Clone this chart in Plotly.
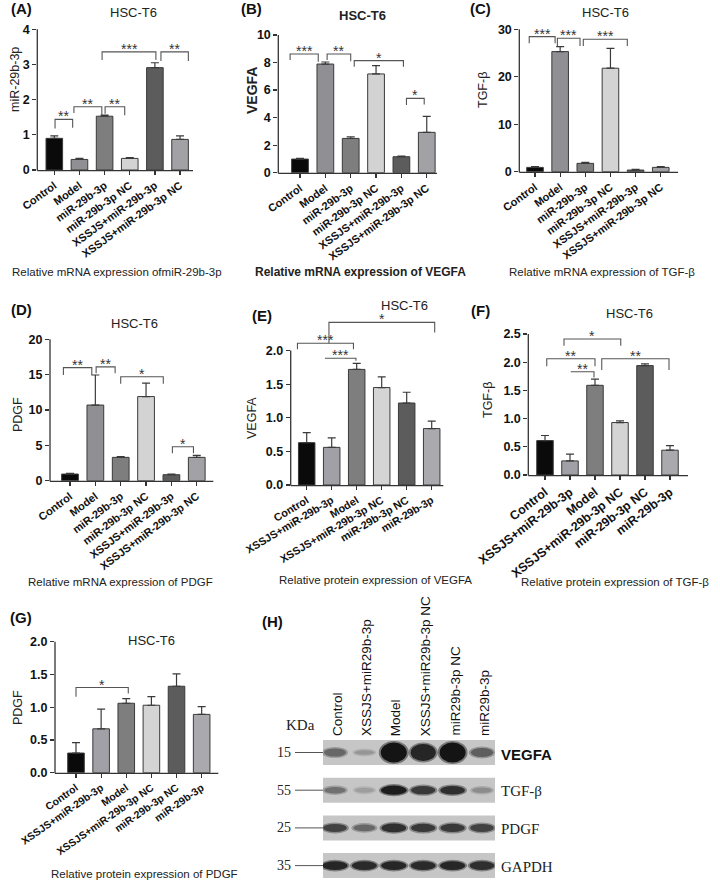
import plotly.graph_objects as go

W, H = 720, 882

# ---------------- data ----------------
mrna_groups = ["Control", "Model", "miR-29b-3p", "miR-29b-3p NC",
               "XSSJS+miR-29b-3p", "XSSJS+miR-29b-3p NC"]
prot_groups = ["Control", "XSSJS+miR-29b-3p", "Model",
               "XSSJS+miR-29b-3p NC", "miR-29b-3p NC", "miR-29b-3p"]

a_mir = [0.90, 0.30, 1.53, 0.33, 2.91, 0.87]
a_err = [0.07, 0.03, 0.03, 0.02, 0.14, 0.10]
b_vegfa = [0.99, 7.89, 2.49, 7.17, 1.16, 2.93]
b_err = [0.05, 0.15, 0.12, 0.60, 0.05, 1.16]
c_tgfb = [0.91, 25.3, 1.76, 21.8, 0.35, 0.91]
c_err = [0.14, 1.05, 0.21, 4.20, 0.14, 0.14]
d_pdgf = [0.94, 10.7, 3.30, 11.9, 0.85, 3.30]
d_err = [0.10, 4.25, 0.10, 1.90, 0.09, 0.28]
e_vegfa = [0.63, 0.56, 1.72, 1.45, 1.22, 0.84]
e_err = [0.15, 0.14, 0.09, 0.16, 0.16, 0.11]
f_tgfb = [0.61, 0.25, 1.59, 0.93, 1.94, 0.44]
f_err = [0.09, 0.12, 0.11, 0.03, 0.03, 0.08]
g_pdgf = [0.30, 0.67, 1.06, 1.03, 1.32, 0.89]
g_err = [0.16, 0.30, 0.07, 0.13, 0.19, 0.12]

# western blot (panel H)
blot_lanes = ["Control", "XSSJS+miR29b-3p", "Model", "XSSJS+miR29b-3p NC",
              "miR29b-3p NC", "miR29b-3p"]
blot_proteins = ["VEGFA", "TGF-β", "PDGF", "GAPDH"]
blot_kda = ["15", "55", "25", "35"]
vegfa_band = [0.55, 0.30, 1.00, 0.90, 1.00, 0.60]
tgfb_band = [0.50, 0.25, 0.95, 0.80, 0.85, 0.35]
pdgf_band = [0.75, 0.55, 0.85, 0.80, 0.80, 0.75]
gapdh_band = [0.90, 0.88, 0.90, 0.88, 0.90, 0.85]

mrna_colors = ["#0a0a0a", "#909094", "#7e7e7e", "#d3d3d3", "#5c5c5c", "#a2a2a6"]
prot_colors = ["#0a0a0a", "#a0a0a6", "#7e7e7e", "#d4d4d4", "#5c5c5c", "#aaaaae"]

FONT = "Liberation Sans, Arial, sans-serif"
SERIF = "Liberation Serif, Times New Roman, serif"
AX = "#333333"


def fx(px):
    return px / W


def fy(py):
    return 1 - py / H


# panel geometry (pixels)
panels = [
    dict(letter="(A)", cats=mrna_groups, vals=a_mir, errs=a_err, colors=mrna_colors,
         ax=37.3, end=193, cat0=54.3, sp=25.15, zero=170, pxu=35.17, ytop=4, ymax=4.1,
         xfs=11, xang=-36,
         ticks=[0, 1, 2, 3, 4], tickfmt="{:g}", ytitle="miR-29b-3p", ytbold=False,
         ytx=15, yty=80, title="HSC-T6", tbold=False, tx=133, ty=13,
         cap="Relative mRNA expression ofmiR-29b-3p", capbold=False, cx=117, cy=272,
         lx=21, ly=8,
         brackets=[(0.03, 0.73, 1.44, 1.18, 1.20, "**"),
                   (0.78, 1.89, 1.80, 1.62, 1.56, "**"),
                   (2.02, 2.80, 1.80, 1.60, 1.56, "**"),
                   (1.90, 4.04, 3.36, 3.13, 3.13, "***"),
                   (4.24, 5.33, 3.36, 3.10, 3.10, "**")]),
    dict(letter="(B)", cats=mrna_groups, vals=b_vegfa, errs=b_err, colors=mrna_colors,
         ax=278.3, end=437, cat0=300, sp=25.35, zero=172.7, pxu=13.77, ytop=10, ymax=10.2,
         xfs=11, xang=-36,
         ticks=[0, 2, 4, 6, 8, 10], tickfmt="{:g}", ytitle="VEGFA", ytbold=True,
         ytx=252, yty=90, title="HSC-T6", tbold=True, tx=362, ty=15,
         cap="Relative mRNA expression of VEGFA", capbold=True, cx=360, cy=272,
         lx=251, ly=8,
         brackets=[(-0.39, 0.72, 8.62, 8.18, 8.06, "***"),
                   (1.07, 2.00, 8.62, 8.18, 8.10, "**"),
                   (2.14, 4.08, 8.14, 7.70, 7.70, "*"),
                   (4.20, 4.90, 5.40, 4.92, 4.95, "*")]),
    dict(letter="(C)", cats=mrna_groups, vals=c_tgfb, errs=c_err, colors=mrna_colors,
         ax=519.3, end=678, cat0=535, sp=25.15, zero=171.7, pxu=4.747, ytop=30, ymax=32,
         xfs=11, xang=-36,
         ticks=[0, 10, 20, 30], tickfmt="{:g}", ytitle="TGF-β", ytbold=False,
         ytx=483, yty=90, title="HSC-T6", tbold=False, tx=605, ty=13,
         cap="Relative mRNA expression of TGF-β", capbold=False, cx=602, cy=272,
         lx=481, ly=8,
         brackets=[(-0.23, 0.80, 28.46, 27.06, 27.06, "***"),
                   (0.89, 1.79, 28.10, 26.50, 26.50, "***"),
                   (1.92, 3.67, 27.90, 26.50, 26.50, "***")]),
    dict(letter="(D)", cats=mrna_groups, vals=d_pdgf, errs=d_err, colors=mrna_colors,
         ax=50, end=213.3, cat0=70, sp=25.35, zero=480.7, pxu=7.07, ytop=20, ymax=20.5,
         xfs=11, xang=-37,
         ticks=[0, 5, 10, 15, 20], tickfmt="{:g}", ytitle="PDGF", ytbold=False,
         ytx=18, yty=415, title="HSC-T6", tbold=False, tx=134, ty=323,
         cap="Relative mRNA expression of PDGF", capbold=False, cx=120, cy=582,
         lx=21, ly=309,
         brackets=[(-0.26, 0.86, 16.0, 14.95, 14.95, "**"),
                   (1.03, 1.78, 16.1, 15.2, 15.2, "**"),
                   (2.00, 3.68, 14.7, 13.7, 13.7, "*"),
                   (4.04, 4.87, 4.80, 3.87, 3.87, "*")]),
    dict(letter="(E)", cats=prot_groups, vals=e_vegfa, errs=e_err, colors=prot_colors,
         ax=290.7, end=443.3, cat0=306.7, sp=25.0, zero=485, pxu=67.2, ytop=2.0, ymax=2.62,
         xfs=10.8, xang=-31,
         ticks=[0, 0.5, 1.0, 1.5, 2.0], tickfmt="{:.1f}", ytitle="VEGFA", ytbold=False,
         ytx=252, yty=418, title="HSC-T6", tbold=False, tx=404, ty=305,
         cap="Relative protein expression of VEGFA", capbold=False, cx=375, cy=580,
         lx=262, ly=315,
         brackets=[(-0.37, 1.87, 2.11, 2.02, 2.02, "***"),
                   (0.73, 1.97, 1.886, None, 1.85, "***"),
                   (0.89, 5.12, 2.42, 2.11, 2.27, "*")]),
    dict(letter="(F)", cats=prot_groups, vals=f_tgfb, errs=f_err, colors=prot_colors,
         ax=528.3, end=688, cat0=545, sp=25.0, zero=475, pxu=56.4, ytop=2.5, ymax=2.72,
         xfs=12.5, xang=-38,
         ticks=[0, 0.5, 1.0, 1.5, 2.0, 2.5], tickfmt="{:.1f}", ytitle="TGF-β", ytbold=False,
         ytx=488, yty=400, title="HSC-T6", tbold=False, tx=629, ty=313,
         cap="Relative protein expression of TGF-β", capbold=False, cx=615, cy=582,
         lx=481, ly=310,
         brackets=[(0.76, 3.03, 2.41, 2.29, 2.29, "*"),
                   (0.07, 2.00, 2.06, 1.93, 1.93, "**"),
                   (1.03, 1.96, 1.83, None, 1.73, "**"),
                   (2.27, 4.96, 2.06, 1.86, 1.86, "**")]),
    dict(letter="(G)", cats=prot_groups, vals=g_pdgf, errs=g_err, colors=prot_colors,
         ax=55, end=218.3, cat0=76, sp=25.13, zero=772.7, pxu=65.5, ytop=2.0, ymax=2.05,
         xfs=10.5, xang=-35,
         ticks=[0, 0.5, 1.0, 1.5, 2.0], tickfmt="{:.1f}", ytitle="PDGF", ytbold=False,
         ytx=18, yty=708, title="HSC-T6", tbold=False, tx=151, ty=640,
         cap="Relative protein expression of PDGF", capbold=False, cx=144, cy=874,
         lx=21, ly=617,
         brackets=[(0.00, 2.08, 1.30, 1.16, 1.21, "*")]),
]

fig = go.Figure()
layout = dict(width=W, height=H, margin=dict(l=0, r=0, t=0, b=0),
              plot_bgcolor="white", paper_bgcolor="white", showlegend=False,
              font=dict(family=FONT, color="#111111"))
shapes = []
annotations = []

for i, p in enumerate(panels, start=1):
    xa = "x" if i == 1 else f"x{i}"
    ya = "y" if i == 1 else f"y{i}"
    n = len(p["cats"])
    idx = list(range(n))
    fig.add_trace(go.Bar(
        x=idx, y=p["vals"], xaxis=xa, yaxis=ya, width=0.66,
        marker=dict(color=p["colors"], line=dict(color="#3a3a3a", width=1)),
        error_y=dict(type="data", symmetric=False, array=p["errs"],
                     arrayminus=[0] * n, color="#3a3a3a", thickness=1.2, width=4),
        hoverinfo="skip"))
    x0r = (p["ax"] - p["cat0"]) / p["sp"]
    x1r = (p["end"] - p["cat0"]) / p["sp"]
    top_px = p["zero"] - p["ymax"] * p["pxu"]
    layout["xaxis" if i == 1 else f"xaxis{i}"] = dict(
        domain=[fx(p["ax"]), fx(p["end"])], range=[x0r, x1r], anchor=ya,
        tickvals=idx, ticktext=p["cats"], tickangle=p["xang"],
        tickfont=dict(family=FONT, size=p["xfs"], weight="bold", color="#111"),
        ticks="outside", ticklen=4, tickwidth=1.2, tickcolor=AX,
        showline=False, showgrid=False, zeroline=False, fixedrange=True, automargin=False)
    layout["yaxis" if i == 1 else f"yaxis{i}"] = dict(
        domain=[fy(p["zero"]), fy(top_px)], range=[0, p["ymax"]], anchor=xa,
        tickvals=p["ticks"], ticktext=[p["tickfmt"].format(t) for t in p["ticks"]],
        tickfont=dict(family=FONT, size=12.5, weight="bold", color="#111"),
        ticks="outside", ticklen=4, tickwidth=1.2, tickcolor=AX,
        showline=False, showgrid=False, zeroline=False, fixedrange=True, automargin=False)
    # axis lines (paper coords)
    ytop_px = p["zero"] - p["ytop"] * p["pxu"]
    shapes.append(dict(type="line", xref="paper", yref="paper",
                       x0=fx(p["ax"]), x1=fx(p["ax"]), y0=fy(p["zero"] + 0.6), y1=fy(ytop_px),
                       line=dict(color=AX, width=1.3)))
    shapes.append(dict(type="line", xref="paper", yref="paper",
                       x0=fx(p["ax"]), x1=fx(p["end"]), y0=fy(p["zero"] + 0.6), y1=fy(p["zero"] + 0.6),
                       line=dict(color=AX, width=1.3)))
    # significance brackets
    for (bx0, bx1, by, yl0, yl1, lab) in p["brackets"]:
        path = ""
        if yl0 is not None:
            path += f"M{bx0},{yl0} L{bx0},{by} "
        else:
            path += f"M{bx0},{by} "
        path += f"L{bx1},{by} "
        if yl1 is not None:
            path += f"L{bx1},{yl1}"
        shapes.append(dict(type="path", xref=xa, yref=ya, path=path,
                           line=dict(color="#555555", width=1.1)))
        annotations.append(dict(x=(bx0 + bx1) / 2, y=by, xref=xa, yref=ya, text=lab,
                                showarrow=False, xanchor="center", yanchor="middle", yshift=3,
                                font=dict(family=FONT, size=14, color="#333")))
    # texts
    annotations.append(dict(x=fx(p["lx"]), y=fy(p["ly"]), xref="paper", yref="paper",
                            text=f"<b>{p['letter']}</b>", showarrow=False,
                            xanchor="center", yanchor="middle",
                            font=dict(family=FONT, size=15, color="#111")))
    ttl = f"<b>{p['title']}</b>" if p["tbold"] else p["title"]
    annotations.append(dict(x=fx(p["tx"]), y=fy(p["ty"]), xref="paper", yref="paper",
                            text=ttl, showarrow=False, xanchor="center", yanchor="middle",
                            font=dict(family=FONT, size=13, color="#222")))
    yt = f"<b>{p['ytitle']}</b>" if p["ytbold"] else p["ytitle"]
    annotations.append(dict(x=fx(p["ytx"]), y=fy(p["yty"]), xref="paper", yref="paper",
                            text=yt, showarrow=False, textangle=-90,
                            xanchor="center", yanchor="middle",
                            font=dict(family=FONT, size=14 if p["ytbold"] else 12.5, color="#222")))
    cp = f"<b>{p['cap']}</b>" if p["capbold"] else p["cap"]
    annotations.append(dict(x=fx(p["cx"]), y=fy(p["cy"]), xref="paper", yref="paper",
                            text=cp, showarrow=False, xanchor="center", yanchor="middle",
                            borderpad=0,
                            font=dict(family=FONT, size=12 if p["capbold"] else 11.5, color="#222")))

# ---------------- panel H: western blot ----------------
hx, hy = "x8", "y8"
lane_sp, row_sp = 29.4, 37.7
mem_l, mem_r, mem_t, mem_b = 323, 495, 740, 878
lane0, row0 = 335, 752.5
layout["xaxis8"] = dict(domain=[fx(mem_l), fx(mem_r)],
                        range=[(mem_l - lane0) / lane_sp, (mem_r - lane0) / lane_sp],
                        anchor="y8", visible=False, fixedrange=True)
layout["yaxis8"] = dict(domain=[fy(mem_b), fy(mem_t)],
                        range=[(mem_b - row0) / row_sp, (mem_t - row0) / row_sp],
                        anchor="x8", visible=False, fixedrange=True)
fig.add_trace(go.Scatter(x=[0], y=[0], xaxis=hx, yaxis=hy, mode="markers",
                         marker=dict(size=1, color="rgba(0,0,0,0)"), hoverinfo="skip"))

bands = [vegfa_band, tgfb_band, pdgf_band, gapdh_band]
x_lo = (mem_l - lane0) / lane_sp
x_hi = (mem_r - lane0) / lane_sp
strip_half = 12.5 / row_sp
for r, band in enumerate(bands):
    shapes.append(dict(type="rect", xref=hx, yref=hy, x0=x_lo, x1=x_hi,
                       y0=r - strip_half, y1=r + strip_half,
                       fillcolor="#c6c6c6", line=dict(width=0), layer="below"))
    for li, v in enumerate(band):
        if r == 0:
            hpx = 3 + 17 * v * v
        else:
            hpx = 3.5 + 6 * v
        wpx = 17 + 9 * v
        g = int(205 - 185 * v)
        # soft halo
        shapes.append(dict(type="circle", xref=hx, yref=hy,
                           x0=li - (wpx + 4) / 2 / lane_sp, x1=li + (wpx + 4) / 2 / lane_sp,
                           y0=r - (hpx + 3) / 2 / row_sp, y1=r + (hpx + 3) / 2 / row_sp,
                           fillcolor=f"rgba({g},{g},{g},0.45)", line=dict(width=0)))
        shapes.append(dict(type="circle", xref=hx, yref=hy,
                           x0=li - wpx / 2 / lane_sp, x1=li + wpx / 2 / lane_sp,
                           y0=r - hpx / 2 / row_sp, y1=r + hpx / 2 / row_sp,
                           fillcolor=f"rgb({g},{g},{g})", line=dict(width=0)))
    # marker line + kDa label
    yc = row0 + r * row_sp
    shapes.append(dict(type="line", xref="paper", yref="paper", x0=fx(295), x1=fx(323),
                       y0=fy(yc), y1=fy(yc), line=dict(color="#555", width=1)))
    annotations.append(dict(x=fx(293), y=fy(yc), xref="paper", yref="paper",
                            text=blot_kda[r], showarrow=False, xanchor="right", yanchor="middle",
                            font=dict(family=SERIF, size=14, color="#222")))
    prot = blot_proteins[r]
    if r == 0:
        annotations.append(dict(x=fx(499), y=fy(yc + 2), xref="paper", yref="paper",
                                text=f"<b>{prot}</b>", showarrow=False, xanchor="left",
                                yanchor="middle", font=dict(family=FONT, size=15, color="#111")))
    else:
        annotations.append(dict(x=fx(499), y=fy(yc + 1), xref="paper", yref="paper",
                                text=prot, showarrow=False, xanchor="left",
                                yanchor="middle", font=dict(family=SERIF, size=15, color="#222")))

for li, lab in enumerate(blot_lanes):
    annotations.append(dict(x=fx(lane0 + li * lane_sp + 2), y=fy(737), xref="paper", yref="paper",
                            text=lab, showarrow=False, textangle=-90,
                            xanchor="center", yanchor="bottom", borderpad=0,
                            font=dict(family=FONT, size=13.5, color="#111")))
annotations.append(dict(x=fx(300), y=fy(725), xref="paper", yref="paper", text="KDa",
                        showarrow=False, xanchor="center", yanchor="middle",
                        font=dict(family=SERIF, size=15, color="#222")))
annotations.append(dict(x=fx(272), y=fy(621), xref="paper", yref="paper", text="<b>(H)</b>",
                        showarrow=False, xanchor="center", yanchor="middle",
                        font=dict(family=FONT, size=15, color="#111")))

layout["shapes"] = shapes
layout["annotations"] = annotations
fig.update_layout(**layout)
fig.write_html("out.html", config={"displayModeBar": False, "staticPlot": True},
               post_script="document.body.style.margin='0';document.body.style.overflow='hidden';")
